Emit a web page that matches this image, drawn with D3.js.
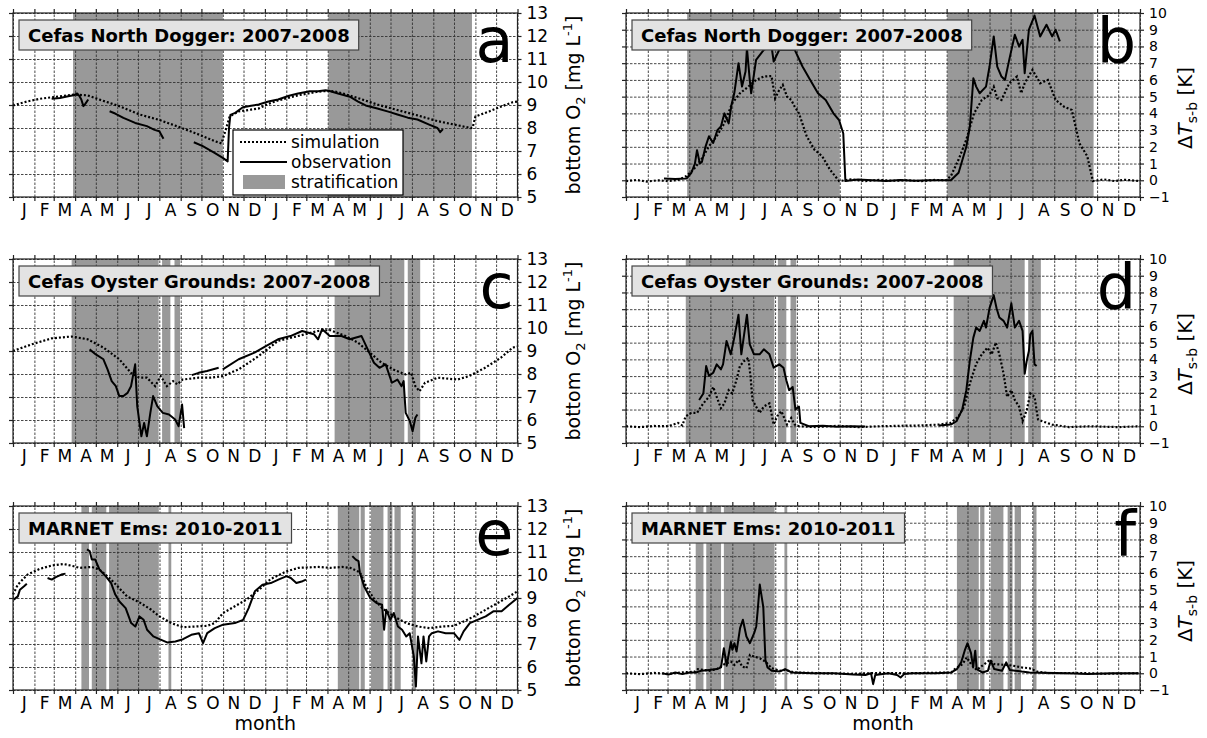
<!DOCTYPE html>
<html>
<head>
<meta charset="utf-8">
<script src="https://cdn.jsdelivr.net/npm/d3@7"></script>
<style>
body { margin: 0; background: #fff; }
text { font-family: "DejaVu Sans", sans-serif; }
</style>
</head>
<body>
<svg id="chart" width="1207" height="738"></svg>
<script>
// ---- data (x = days since 1 Jan of the first year) ----
var monthLetters = ['J','F','M','A','M','J','J','A','S','O','N','D']
var o2Ticks = [5,6,7,8,9,10,11,12,13]
var dtTicks = [-1,0,1,2,3,4,5,6,7,8,9,10]

var stratNorthDogger = [[87,304],[457,665]]
var stratOyster = [[85,211],[216,228],[234,242],[466,567],[572,590]]
var stratEms = [[99,110],[114,135],[139,211],[225,229],[470,501],[503,509],[518,536],[542,549],[552,561],[578,583]]

var simA = [[0,8.98],[20,9.15],[39,9.27],[68,9.38],[88,9.45],[108,9.42],[125,9.24],[154,8.95],[183,8.59],[212,8.35],[240,8.05],[269,7.72],[292,7.43],[302,7.33],[308,7.9],[314,8.5],[327,8.72],[345,8.8],[356,8.85],[370,9.05],[384,9.2],[413,9.42],[442,9.58],[458,9.62],[471,9.56],[500,9.3],[528,9.02],[557,8.78],[586,8.55],[615,8.3],[644,8.12],[663,8.0],[666,8.02],[670,8.5],[690,8.72],[707,8.93],[724,9.12],[731,9.15]]
var obsA = [[56,9.27],[68,9.3],[80,9.38],[88,9.42],[93,9.5],[96,9.4],[99,9.24],[102,8.95],[105,9.06],[109,9.24],[null,null],
  [140,8.73],[148,8.63],[160,8.44],[177,8.22],[194,8.08],[205,7.92],[212,7.86],[218,7.53],[null,null],
  [262,7.38],[275,7.21],[292,6.92],[304,6.7],[311,6.55],[313,8.0],[315,8.57],[322,8.66],[333,8.9],[345,8.97],[356,9.02],[370,9.15],[384,9.24],[400,9.4],[413,9.5],[430,9.6],[442,9.6],[453,9.64],[460,9.6],[471,9.5],[488,9.36],[500,9.15],[511,8.98],[528,8.85],[545,8.7],[557,8.59],[572,8.45],[586,8.37],[603,8.15],[615,8.0],[619,7.82],[623,7.95]]

var simB = [[0,-0.05],[15,0.02],[30,-0.08],[45,0.0],[60,-0.05],[75,0.03],[86,0.25],[96,0.64],[107,1.24],[118,2.03],[129,2.63],[140,3.42],[151,4.6],[162,5.2],[174,5.6],[185,6.0],[196,6.2],[207,6.23],[212,4.9],[218,5.4],[223,5.7],[229,5.0],[235,4.8],[240,4.4],[246,4.0],[257,2.63],[268,1.83],[279,1.44],[290,0.64],[303,-0.05],[320,0.05],[340,-0.05],[360,0.02],[380,-0.03],[400,0.0],[420,-0.05],[440,0.02],[455,0.0],[462,0.25],[473,1.24],[484,2.43],[495,4.0],[506,4.8],[517,5.1],[523,5.6],[528,4.9],[534,4.8],[545,5.8],[556,6.2],[562,5.2],[567,5.8],[578,6.6],[589,5.8],[600,6.0],[611,4.8],[623,4.4],[634,4.2],[645,2.2],[656,1.44],[664,-0.05],[680,0.05],[695,-0.05],[710,0.03],[731,-0.05]]
var obsB = [[54,0.1],[70,0.08],[86,0.1],[93,0.45],[98,1.0],[101,1.8],[105,1.0],[108,1.1],[113,2.0],[118,2.63],[124,2.23],[130,3.0],[135,3.22],[140,4.0],[146,3.4],[150,4.5],[154,5.2],[160,7.0],[165,5.6],[170,6.5],[172,7.9],[176,6.0],[178,5.2],[185,7.2],[196,7.8],[207,8.0],[210,7.1],[218,7.8],[229,7.8],[240,7.8],[251,6.8],[262,6.0],[273,5.2],[284,4.8],[295,4.0],[303,3.6],[309,2.8],[312,-0.05],[330,0.05],[350,0.0],[370,-0.05],[390,0.02],[410,-0.03],[430,0.0],[455,0.0],[462,0.0],[473,0.45],[484,2.0],[489,3.2],[494,6.1],[498,5.6],[503,5.2],[512,5.6],[517,6.8],[523,8.6],[528,6.8],[534,6.2],[539,6.0],[545,7.2],[553,8.7],[559,8.0],[564,8.4],[567,6.4],[573,9.0],[581,9.85],[589,8.6],[598,9.3],[606,8.6],[611,9.0],[617,8.3]]

var simC = [[0,9.0],[27,9.29],[56,9.55],[85,9.63],[108,9.51],[131,9.15],[154,8.64],[171,8.05],[183,7.84],[194,7.84],[206,7.47],[214,7.91],[223,7.47],[232,7.69],[238,7.55],[246,7.76],[269,7.84],[287,7.84],[304,7.91],[327,8.2],[356,8.78],[384,9.44],[413,9.65],[442,9.87],[459,9.91],[482,9.65],[500,9.36],[517,8.93],[534,8.49],[551,8.2],[569,7.98],[577,8.05],[583,7.47],[589,7.25],[597,7.62],[615,7.84],[644,7.76],[661,7.91],[684,8.27],[707,8.71],[724,9.15],[731,9.19]]
var obsC = [[111,9.07],[120,8.85],[131,8.64],[137,8.2],[143,7.69],[149,7.47],[154,7.04],[160,7.04],[166,7.18],[171,7.47],[177,8.42],[180,6.6],[186,5.29],[190,5.87],[194,5.29],[199,6.31],[203,7.04],[209,6.6],[217,6.31],[226,6.24],[235,6.02],[240,5.73],[245,6.67],[248,5.65],[null,null],
  [259,7.95],[269,8.05],[281,8.13],[298,8.27],[null,null],
  [304,8.2],[327,8.64],[350,8.93],[367,9.22],[384,9.51],[402,9.65],[419,9.87],[436,9.73],[442,9.51],[448,9.95],[459,9.65],[476,9.65],[488,9.51],[505,9.65],[514,9.07],[523,8.49],[531,8.27],[540,8.42],[549,7.62],[557,7.76],[563,7.47],[566,7.69],[569,6.31],[575,5.95],[579,5.51],[583,6.1],[586,6.24]]

var simD = [[0,0.0],[20,-0.05],[40,0.02],[60,0.0],[74,0.2],[80,0.05],[85,0.6],[93,0.8],[101,0.8],[110,1.37],[118,1.76],[124,2.35],[129,1.76],[135,1.08],[140,1.37],[146,2.16],[151,1.96],[157,2.75],[162,3.6],[168,3.9],[174,4.1],[177,3.0],[180,1.57],[185,1.18],[190,0.8],[196,1.18],[204,1.37],[210,0.1],[215,0.6],[221,0.9],[224,0.6],[229,0.1],[235,0.5],[240,0.1],[246,0.0],[270,-0.05],[300,0.03],[330,-0.05],[360,0.0],[390,0.03],[420,0.05],[445,0.1],[462,0.2],[473,0.6],[481,1.18],[489,2.55],[498,3.73],[506,4.3],[514,4.7],[520,4.3],[526,5.0],[531,4.3],[537,3.14],[542,1.76],[548,2.16],[553,1.57],[559,1.18],[564,0.3],[570,0.98],[575,1.96],[581,1.76],[586,0.4],[592,0.3],[606,0.1],[630,-0.05],[660,0.0],[700,-0.05],[731,0.0]]
var obsD = [[104,1.57],[110,1.96],[114,3.6],[118,3.0],[124,3.2],[129,3.7],[135,3.4],[138,3.7],[143,5.1],[149,4.3],[154,5.3],[160,6.67],[164,4.3],[168,5.5],[172,6.67],[176,4.9],[182,4.3],[190,4.3],[196,4.6],[204,4.3],[210,3.5],[218,3.7],[224,3.5],[228,2.75],[232,2.16],[237,2.35],[241,1.0],[246,1.18],[248,0.2],[260,0.0],[280,0.03],[300,-0.03],[320,0.0],[340,-0.02],[null,null],
  [445,0.05],[462,0.1],[470,0.3],[478,0.98],[484,2.16],[489,3.92],[494,5.3],[498,5.9],[503,5.7],[509,6.3],[512,5.9],[517,7.06],[523,7.84],[527,7.06],[531,6.5],[537,6.3],[542,5.9],[548,7.35],[553,5.9],[559,6.3],[564,5.7],[567,3.14],[570,3.92],[573,4.5],[575,5.5],[578,5.7],[581,3.7],[584,3.6]]

var simE = [[0,9.15],[7,9.58],[21,10.02],[39,10.27],[56,10.41],[73,10.48],[88,10.38],[96,10.31],[114,10.35],[125,10.24],[142,9.8],[165,9.07],[183,8.81],[200,8.49],[212,8.2],[229,7.91],[246,7.73],[263,7.76],[281,7.79],[292,7.91],[304,8.35],[321,8.64],[338,8.93],[356,9.36],[373,9.83],[396,10.16],[413,10.31],[442,10.35],[459,10.31],[476,10.35],[488,10.31],[502,10.12],[511,9.51],[523,8.93],[534,8.56],[551,8.2],[569,7.91],[586,7.76],[603,7.69],[620,7.76],[638,7.79],[652,7.98],[667,8.2],[684,8.49],[701,8.78],[718,9.07],[730,9.29]]
var obsE = [[1,8.93],[7,9.07],[10,9.36],[16,9.51],[20,9.62],[null,null],
  [50,9.87],[56,9.8],[62,9.91],[70,10.02],[76,10.06],[null,null],
  [107,11.11],[111,11.04],[114,10.67],[119,10.67],[125,10.24],[134,9.95],[142,9.65],[148,9.15],[154,8.85],[163,8.56],[171,7.91],[177,7.76],[183,8.2],[189,8.05],[194,7.62],[203,7.33],[212,7.21],[223,7.07],[235,7.11],[246,7.21],[258,7.4],[269,7.47],[275,7.04],[281,7.47],[292,7.69],[304,7.84],[321,7.91],[333,8.05],[341,8.56],[350,9.29],[361,9.58],[373,9.65],[384,9.8],[396,9.95],[402,9.87],[410,9.65],[419,9.73],[424,9.8],[null,null],
  [491,10.82],[496,10.67],[500,10.6],[502,10.09],[508,9.51],[517,9.0],[526,8.78],[534,8.71],[537,7.62],[540,8.49],[546,8.05],[551,8.35],[557,7.76],[563,7.62],[569,7.33],[574,7.47],[580,6.45],[583,5.15],[586,7.33],[591,6.16],[594,7.33],[598,6.24],[602,7.33],[606,7.47],[615,7.55],[626,7.47],[638,7.47],[646,7.18],[652,7.55],[661,7.91],[672,8.05],[684,8.2],[695,8.42],[707,8.42],[718,8.71],[730,9.0]]

var simF = [[0,0.0],[20,-0.05],[40,0.02],[60,-0.03],[80,0.05],[98,0.1],[102,0.25],[118,0.15],[129,0.25],[140,0.55],[149,0.7],[154,0.5],[160,0.8],[165,0.4],[171,0.3],[176,1.1],[182,1.0],[190,0.9],[198,0.7],[207,0.3],[218,0.15],[226,0.2],[240,0.05],[280,0.0],[320,-0.03],[360,0.02],[400,0.0],[440,0.03],[462,0.05],[467,0.25],[478,0.55],[484,0.95],[490,0.55],[498,0.2],[517,0.8],[523,0.55],[539,0.5],[550,0.45],[562,0.35],[573,0.3],[584,0.1],[600,0.0],[640,0.02],[680,-0.03],[731,0.0]]
var obsF = [[52,0.0],[60,-0.08],[70,0.05],[80,-0.05],[90,0.05],[99,0.05],[107,0.15],[118,0.2],[129,0.25],[135,0.35],[139,1.5],[143,0.45],[149,1.87],[151,1.4],[154,1.8],[157,1.3],[162,2.7],[166,3.2],[171,2.2],[176,1.8],[182,2.4],[185,2.8],[187,3.75],[190,5.3],[195,3.95],[198,0.8],[201,0.35],[207,0.15],[218,0.1],[226,0.25],[235,0.05],[265,0.0],[295,0.0],[323,-0.08],[340,-0.1],[348,0.0],[351,-0.65],[354,-0.1],[373,0.0],[385,-0.1],[390,-0.25],[395,-0.05],[406,0.0],[440,0.0],[462,0.05],[470,0.25],[476,0.65],[481,1.35],[485,1.8],[490,1.2],[493,0.35],[496,1.35],[498,0.25],[506,0.05],[514,0.15],[518,0.75],[523,0.25],[534,0.15],[540,0.65],[545,0.2],[553,0.15],[562,0.1],[573,0.05],[628,0.0],[656,-0.05],[690,0.0],[728,0.0]]

// ---- layout ----
var colX = [13, 626]
var colW = [504.5, 514]
var rowY = [13, 259, 506]
var rowH = 184

var panels = [
  { col: 0, row: 0, kind: 'o2', title: 'Cefas North Dogger: 2007-2008', letter: 'a', year: 2007, strat: stratNorthDogger, sim: simA, obs: obsA, legend: true },
  { col: 1, row: 0, kind: 'dt', title: 'Cefas North Dogger: 2007-2008', letter: 'b', year: 2007, strat: stratNorthDogger, sim: simB, obs: obsB },
  { col: 0, row: 1, kind: 'o2', title: 'Cefas Oyster Grounds: 2007-2008', letter: 'c', year: 2007, strat: stratOyster, sim: simC, obs: obsC },
  { col: 1, row: 1, kind: 'dt', title: 'Cefas Oyster Grounds: 2007-2008', letter: 'd', year: 2007, strat: stratOyster, sim: simD, obs: obsD },
  { col: 0, row: 2, kind: 'o2', title: 'MARNET Ems: 2010-2011', letter: 'e', year: 2010, strat: stratEms, sim: simE, obs: obsE },
  { col: 1, row: 2, kind: 'dt', title: 'MARNET Ems: 2010-2011', letter: 'f', year: 2010, strat: stratEms, sim: simF, obs: obsF }
]

var svg = d3.select('#chart')
var stratColor = '#999999'

panels.forEach(function(p) {
  var x0 = colX[p.col], w = colW[p.col], y0 = rowY[p.row], h = rowH
  var start = new Date(Date.UTC(p.year, 0, 1))
  var end = new Date(Date.UTC(p.year + 2, 0, 1))
  var toDate = function(day) { return new Date(start.getTime() + day * 864e5) }

  var x = d3.scaleUtc().domain([start, end]).range([0, w])
  var y = d3.scaleLinear()
    .domain(p.kind == 'o2' ? [5, 13] : [-1, 10])
    .range([h, 0])
  var ticks = p.kind == 'o2' ? o2Ticks : dtTicks

  var g = svg.append('g').attr('transform', 'translate(' + x0 + ',' + y0 + ')')

  // stratification periods
  g.selectAll('rect.strat')
    .data(p.strat)
    .enter()
    .append('rect')
    .attr('class', 'strat')
    .attr('x', function(d) { return x(toDate(d[0])) })
    .attr('width', function(d) { return x(toDate(d[1])) - x(toDate(d[0])) })
    .attr('y', 0)
    .attr('height', h)
    .attr('fill', stratColor)

  var monthStarts = d3.utcMonth.range(start, end)
  monthStarts.push(end)
  var monthMids = d3.utcMonth.range(start, end).map(function(m) {
    return new Date((m.getTime() + d3.utcMonth.offset(m, 1).getTime()) / 2)
  })

  // grid
  var gx = g.append('g')
    .attr('transform', 'translate(0,' + h + ')')
    .call(d3.axisBottom(x).tickValues(monthStarts).tickSize(-h).tickFormat(''))
  var gy = g.append('g')
    .call(d3.axisLeft(y).tickValues(ticks).tickSize(-w).tickFormat(''))
  ;[gx, gy].forEach(function(a) {
    a.select('.domain').remove()
    a.selectAll('line')
      .attr('stroke', '#333')
      .attr('stroke-width', 0.9)
      .attr('stroke-dasharray', '2.5,1.5')
  })

  // lines
  var line = d3.line()
    .defined(function(d) { return d[0] != null })
    .x(function(d) { return x(toDate(d[0])) })
    .y(function(d) { return y(d[1]) })

  g.append('path')
    .datum(p.obs)
    .attr('d', line)
    .attr('fill', 'none')
    .attr('stroke', '#000')
    .attr('stroke-width', 2)
    .attr('stroke-linejoin', 'round')

  g.append('path')
    .datum(p.sim)
    .attr('d', line)
    .attr('fill', 'none')
    .attr('stroke', '#000')
    .attr('stroke-width', 2.2)
    .attr('stroke-dasharray', '2,2')

  // frame + ticks
  g.append('rect')
    .attr('width', w).attr('height', h)
    .attr('fill', 'none').attr('stroke', '#222').attr('stroke-width', 1.2)

  var tb = g.append('g').attr('transform', 'translate(0,' + h + ')')
    .call(d3.axisBottom(x).tickValues(monthStarts).tickSize(4).tickFormat(''))
  var tt = g.append('g')
    .call(d3.axisTop(x).tickValues(monthStarts).tickSize(4).tickFormat(''))
  var tl = g.append('g')
    .call(d3.axisLeft(y).tickValues(ticks).tickSize(4).tickFormat(''))
  var tr = g.append('g').attr('transform', 'translate(' + w + ',0)')
    .call(d3.axisRight(y).tickValues(ticks).tickSize(4).tickPadding(5))
  ;[tb, tt, tl, tr].forEach(function(a) {
    a.select('.domain').remove()
    a.selectAll('line').attr('stroke', '#222').attr('stroke-width', 1.2)
  })
  tr.selectAll('text')
    .attr('font-size', p.kind == 'o2' ? 17 : 14)
    .attr('font-family', '"DejaVu Sans", sans-serif').attr('fill', '#000')

  // month letters
  var ml = g.append('g').attr('transform', 'translate(0,' + h + ')')
    .call(d3.axisBottom(x).tickValues(monthMids).tickSize(0).tickPadding(7)
      .tickFormat(function(d) { return monthLetters[d.getUTCMonth()] }))
  ml.select('.domain').remove()
  ml.selectAll('text')
    .attr('font-size', 17).attr('font-family', '"DejaVu Sans", sans-serif').attr('fill', '#000')

  // y label
  if (p.kind == 'o2') {
    var yl = g.append('text')
      .attr('transform', 'translate(' + (w + 62) + ',' + (h / 2) + ') rotate(-90)')
      .attr('text-anchor', 'middle')
      .attr('font-size', 19)
    yl.append('tspan').text('bottom O')
    yl.append('tspan').text('2').attr('font-size', 13).attr('dy', 5)
    yl.append('tspan').text(' [mg L').attr('dy', -5)
    yl.append('tspan').text('-1').attr('font-size', 13).attr('dy', -8)
    yl.append('tspan').text(']').attr('dy', 8)
  } else {
    var yr = g.append('text')
      .attr('transform', 'translate(' + (w + 52) + ',' + (h / 2 + 3) + ') rotate(-90)')
      .attr('text-anchor', 'middle')
      .attr('font-size', 20)
    yr.append('tspan').text('Δ')
    yr.append('tspan').text('T').attr('font-style', 'italic')
    yr.append('tspan').text('s-b').attr('font-size', 14).attr('dy', 5)
    yr.append('tspan').text(' [K]').attr('dy', -5)
  }

  if (p.row == 2) {
    g.append('text')
      .attr('x', w / 2).attr('y', h + 40)
      .attr('text-anchor', 'middle')
      .attr('font-size', 19)
      .text('month')
  }

  // panel letter
  g.append('text')
    .attr('x', w - 4).attr('y', 49)
    .attr('text-anchor', 'end')
    .attr('font-size', 62)
    .text(p.letter)

  // title box
  var tg = g.append('g')
  var tt2 = tg.append('text')
    .attr('x', 15).attr('y', 28.5)
    .attr('font-size', 18).attr('font-weight', 'bold')
    .text(p.title)
  var tw = tt2.node().getComputedTextLength()
  tg.insert('rect', 'text')
    .attr('x', 6).attr('y', 7)
    .attr('width', tw + 18).attr('height', 30)
    .attr('fill', '#e3e3e3').attr('stroke', '#444').attr('stroke-width', 1.2)

  // legend
  if (p.legend) {
    var lg = g.append('g').attr('transform', 'translate(' + (233 - x0) + ',' + (130 - y0) + ')')
    lg.append('rect')
      .attr('width', 170).attr('height', 65)
      .attr('fill', '#fff').attr('stroke', '#000').attr('stroke-width', 1.2)
    var items = ['simulation', 'observation', 'stratification']
    items.forEach(function(name, i) {
      var cy = 12 + i * 20
      if (i == 0) {
        lg.append('line').attr('x1', 7).attr('x2', 54).attr('y1', cy).attr('y2', cy)
          .attr('stroke', '#000').attr('stroke-width', 2.2).attr('stroke-dasharray', '2,2')
      } else if (i == 1) {
        lg.append('line').attr('x1', 7).attr('x2', 54).attr('y1', cy).attr('y2', cy)
          .attr('stroke', '#000').attr('stroke-width', 2)
      } else {
        lg.append('rect').attr('x', 10).attr('y', cy - 7).attr('width', 42).attr('height', 14)
          .attr('fill', stratColor)
      }
      lg.append('text')
        .attr('x', 58).attr('y', cy + 6)
        .attr('font-size', 17)
        .text(name)
    })
  }
})
</script>
</body>
</html>
